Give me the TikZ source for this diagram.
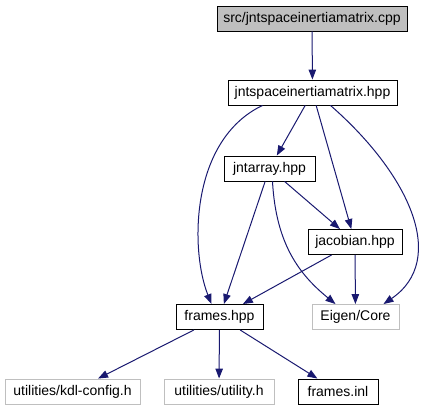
\documentclass[tikz,border=0pt]{standalone}
\usepackage{fontspec}
\setmainfont{Liberation Sans}
\usetikzlibrary{arrows.meta}
\definecolor{edgeblue}{RGB}{25,25,112}
\definecolor{extgray}{RGB}{191,191,191}
\tikzset{
  filebox/.style={draw=black, fill=white, line width=0.9pt, minimum height=25pt, inner sep=0pt, font=\fontsize{14}{16}\selectfont},
  rootbox/.style={filebox, fill=extgray},
  extbox/.style={filebox, draw=extgray},
  incl/.style={edgeblue, line width=1pt, -{Triangle[length=10pt,width=7.5pt]}}
}
\begin{document}
\begin{tikzpicture}[x=1pt, y=-1pt]
  \useasboundingbox (0,0) rectangle (424,411);
  \node[rootbox, minimum width=190pt] (cpp) at (312,18.5) {src/jntspaceinertiamatrix.cpp};
  \node[filebox, minimum width=169pt] (hpp) at (312.5,92.5) {jntspaceinertiamatrix.hpp};
  \node[filebox, minimum width=91pt] (jntarray) at (269.5,168.5) {jntarray.hpp};
  \node[filebox, minimum width=94pt] (jacobian) at (355,242) {jacobian.hpp};
  \node[filebox, minimum width=87pt] (frames) at (219.5,317) {frames.hpp};
  \node[extbox, minimum width=87pt] (eigen) at (355.5,317) {Eigen/Core};
  \node[extbox, minimum width=135pt] (kdlconfig) at (72.5,391.5) {utilities/kdl-config.h};
  \node[extbox, minimum width=110pt] (utility) at (219,391.5) {utilities/utility.h};
  \node[filebox, minimum width=80pt] (inl) at (338,391.5) {frames.inl};
  % includes
  \draw[incl] (cpp) -- (hpp);
  \draw[incl] ([xshift=-50pt]hpp.south) .. controls (190,140) and (190,250) .. ([xshift=-8pt]frames.north);
  \draw[incl] (hpp) -- (jntarray);
  \draw[incl] (hpp) -- (jacobian);
  \draw[incl] ([xshift=18pt]hpp.south) .. controls (410,175) and (448,260) .. ([xshift=28pt]eigen.north);
  \draw[incl] (jntarray) -- (frames);
  \draw[incl] ([xshift=3pt]jntarray.south) .. controls (276,245) and (300,275) .. ([xshift=-20pt]eigen.north);
  \draw[incl] (jntarray) -- (jacobian);
  \draw[incl] (jacobian) -- (frames);
  \draw[incl] (jacobian) -- (eigen);
  \draw[incl] (frames) -- (kdlconfig);
  \draw[incl] (frames) -- (utility);
  \draw[incl] (frames) -- (inl);
\end{tikzpicture}
\end{document}
